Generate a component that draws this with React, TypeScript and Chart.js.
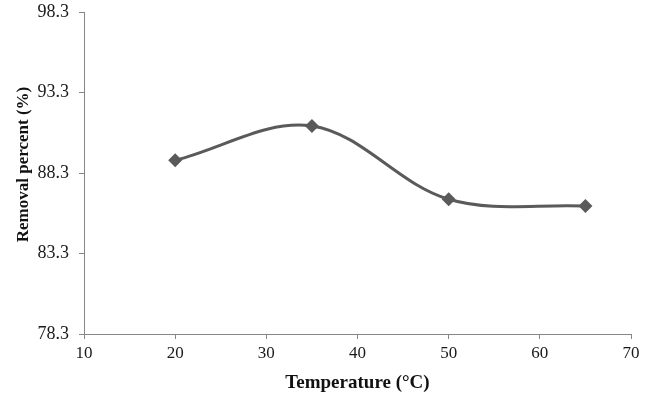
import React, { useEffect, useRef } from "react";
import { Chart, registerables } from "chart.js";

Chart.register(...registerables);

const temperatures = [20, 35, 50, 65];
const removalPercent = [89.09, 91.22, 86.67, 86.25];
const yTicks = [78.3, 83.3, 88.3, 93.3, 98.3];
const xTicks = [10, 20, 30, 40, 50, 60, 70];

export default function App() {
  const ref = useRef<HTMLCanvasElement | null>(null);

  useEffect(() => {
    if (!ref.current) return;
    const serif = "'Liberation Serif', 'Times New Roman', serif";
    const chart = new Chart(ref.current, {
      type: "line",
      data: {
        datasets: [
          {
            data: temperatures.map((t, i) => ({ x: t, y: removalPercent[i] })),
            borderColor: "#5a5a5a",
            backgroundColor: "#5a5a5a",
            borderWidth: 3,
            pointStyle: "rectRot",
            pointRadius: 7,
            pointBorderWidth: 0,
            pointBackgroundColor: "#5a5a5a",
            tension: 0.35,
            fill: false,
          },
        ],
      },
      options: {
        responsive: false,
        animation: false,
        devicePixelRatio: 1,
        layout: { padding: { top: 12, right: 18, left: 0, bottom: 0 } },
        plugins: { legend: { display: false }, tooltip: { enabled: false } },
        scales: {
          x: {
            type: "linear",
            min: xTicks[0],
            max: xTicks[xTicks.length - 1],
            afterBuildTicks: (scale: any) => {
              scale.ticks = xTicks.map((v) => ({ value: v }));
            },
            afterFit: (scale: any) => {
              scale.height = 64;
              scale.paddingLeft = 0;
              scale.paddingRight = 0;
            },
            grid: { drawOnChartArea: false, drawTicks: true, tickLength: 5, color: "#868686" },
            border: { color: "#868686", width: 1 },
            ticks: {
              color: "#1a1a1a",
              font: { family: serif, size: 17 },
              padding: 4,
              maxRotation: 0,
              callback: (v: any) => String(v),
            },
            title: {
              display: true,
              text: "Temperature (°C)",
              color: "#111",
              font: { family: serif, size: 19, weight: "bold" },
              padding: { top: 0, bottom: 4 },
            },
          },
          y: {
            type: "linear",
            min: yTicks[0],
            max: yTicks[yTicks.length - 1],
            afterBuildTicks: (scale: any) => {
              scale.ticks = yTicks.map((v) => ({ value: v }));
            },
            afterFit: (scale: any) => {
              scale.width = 84;
              scale.paddingTop = 0;
              scale.paddingBottom = 0;
            },
            grid: { drawOnChartArea: false, drawTicks: true, tickLength: 5, color: "#868686" },
            border: { color: "#868686", width: 1 },
            ticks: {
              color: "#1a1a1a",
              font: { family: serif, size: 18 },
              padding: 10,
              callback: (v: any) => Number(v).toFixed(1),
            },
            title: {
              display: true,
              text: "    Removal percent (%)",
              color: "#111",
              font: { family: serif, size: 17, weight: "bold" },
              padding: { top: 13, bottom: 0 },
            },
          },
        },
      },
    });
    return () => chart.destroy();
  }, []);

  return (
    <div style={{ position: "absolute", left: 0, top: 0, width: 649, height: 398, background: "#fff" }}>
      <canvas ref={ref} width={649} height={398} />
    </div>
  );
}
